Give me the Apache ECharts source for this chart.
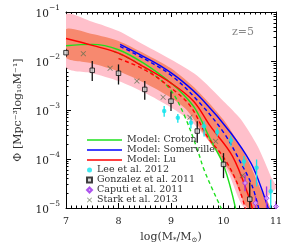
<!DOCTYPE html>
<html><head><meta charset="utf-8">
<script src="https://cdn.jsdelivr.net/npm/echarts@6/dist/echarts.min.js"></script>
<style>html,body{margin:0;padding:0;background:#fff}#c{width:291px;height:249px}</style>
</head><body><div id="c"></div>
<script>
// x: log10(M*/Msun); y values are log10(Phi)
const crotonX = [7.0, 7.5, 8.0, 8.5, 9.0, 9.25, 9.47, 9.75, 10.01, 10.25];
const crotonY = [-1.69, -1.66, -1.77, -2.06, -2.45, -2.70, -2.99, -3.60, -4.15, -5.1];
const crotonDashX = [7.9, 8.3, 8.7, 9.0, 9.25, 9.5, 9.63, 9.82, 10.0];
const crotonDashY = [-1.80, -2.0, -2.3, -2.6, -3.1, -3.8, -4.22, -4.69, -5.1];
const somervilleX = [8.03, 8.41, 8.8, 9.2, 9.6, 10.14, 10.52, 10.71, 10.88];
const somervilleY = [-1.66, -1.87, -2.10, -2.40, -2.79, -3.47, -4.08, -4.56, -5.1];
const somervilleDashX = [8.03, 8.5, 9.0, 9.5, 10.01, 10.33, 10.55, 10.69];
const somervilleDashY = [-1.70, -1.96, -2.29, -2.80, -3.47, -4.08, -4.56, -5.1];
const luX = [7.0, 7.5, 8.0, 8.5, 9.0, 9.43, 9.75, 10.17, 10.48, 10.57];
const luY = [-1.54, -1.68, -1.84, -2.13, -2.45, -2.82, -3.33, -3.94, -4.76, -5.1];
const luDashX = [8.0, 8.5, 9.0, 9.37, 9.69, 10.01, 10.26, 10.44];
const luDashY = [-1.95, -2.18, -2.55, -2.92, -3.54, -3.98, -4.49, -5.1];

// Lu model bands
const band68HiX = [7.0, 7.5, 8.0, 8.5, 9.0, 9.5, 10.0, 10.3, 10.5, 10.7, 10.88];
const band68Hi  = [-1.35, -1.45, -1.59, -1.85, -2.15, -2.6, -3.2, -3.7, -4.1, -4.6, -5.1];
const band68LoX = [7.0, 7.5, 8.0, 8.5, 9.0, 9.3, 9.6, 9.9, 10.2, 10.46];
const band68Lo  = [-1.93, -2.05, -2.21, -2.45, -2.75, -3.0, -3.45, -3.9, -4.4, -5.1];
const band95HiX = [7.0, 7.5, 8.0, 8.5, 9.0, 9.5, 10.0, 10.33, 10.65, 10.9, 11.0];
const band95Hi  = [-1.05, -1.2, -1.39, -1.68, -1.97, -2.3, -2.82, -3.19, -3.74, -4.35, -4.6];
const band95LoX = [7.0, 7.5, 8.0, 8.5, 9.0, 9.4, 9.8, 10.1, 10.42];
const band95Lo  = [-2.13, -2.25, -2.41, -2.65, -2.95, -3.25, -3.75, -4.3, -5.1];

// observations
const gonzX  = [7.0, 7.5, 8.0, 8.5, 9.0, 9.5, 10.0, 10.5];
const gonzY  = [-1.83, -2.19, -2.25, -2.58, -2.82, -3.43, -4.11, -4.82];
const gonzHi = [-1.75, -2.0, -2.07, -2.41, -2.62, -3.23, -3.88, -4.48];
const gonzLo = [-1.92, -2.41, -2.48, -2.79, -3.02, -3.67, -4.39, -5.2];
const starkX = [7.33, 7.84, 8.35, 8.85, 9.36, 9.85, 10.36];
const starkY = [-1.85, -2.15, -2.41, -2.74, -3.15, -3.64, -4.34];
const leeX  = [8.87, 9.13, 9.38, 9.63, 9.88, 10.14, 10.39, 10.63, 10.9];
const leeY  = [-3.02, -3.16, -3.26, -3.33, -3.45, -3.62, -4.05, -4.18, -4.66];
const leeHi = [-2.92, -3.08, -3.14, -3.23, -3.36, -3.52, -3.94, -4.01, -4.42];
const leeLo = [-3.14, -3.26, -3.38, -3.54, -3.54, -3.74, -4.16, -4.56, -5.2];
const caputiX  = [10.41, 10.61, 10.82, 11.0];
const caputiY  = [-4.49, -4.90, -4.80, -4.97];
const caputiHi = [-4.32, -4.76, -4.56, -4.86];
const caputiLo = [-4.66, -5.2, -5.2, -5.2];

const xTicks = [7, 8, 9, 10, 11];
const yTickExp = [-5, -4, -3, -2, -1];

const P = v => Math.pow(10, v);
const pairs = (xs, ys) => xs.map((x, i) => [x, P(ys[i])]);
const FONT = 'DejaVu Serif';

function bandSeries(hx, hy, lx, ly, color) {
  return {
    type: 'custom', clip: true, silent: true, z: 1,
    data: [[hx[0], P(hy[0])]],
    renderItem: function (params, api) {
      const pts = [];
      hx.forEach((x, i) => pts.push(api.coord([x, P(hy[i])])));
      for (let i = lx.length - 1; i >= 0; i--) pts.push(api.coord([lx[i], P(ly[i])]));
      const cs = params.coordSys;
      const clipped = echarts.graphic.clipPointsByRect(pts, {x: cs.x, y: cs.y, width: cs.width, height: cs.height});
      return {type: 'polygon', shape: {points: clipped, smooth: 0.25}, style: {fill: color}};
    }
  };
}
function errSeries(xs, hi, lo, color, z) {
  return {
    type: 'custom', clip: true, silent: true, z: z,
    data: xs.map((x, i) => [x, P(hi[i]), P(lo[i])]),
    encode: {x: 0, y: [1, 2]},
    renderItem: function (params, api) {
      const a = api.coord([api.value(0), api.value(1)]);
      const b = api.coord([api.value(0), api.value(2)]);
      return {type: 'line', shape: {x1: a[0], y1: a[1], x2: b[0], y2: b[1]}, style: {stroke: color, lineWidth: 1.3}};
    }
  };
}
function lineSeries(name, xs, ys, color, dashed) {
  return {
    name: name, type: 'line', data: pairs(xs, ys), showSymbol: false, smooth: 0.35, z: 3,
    clip: true, silent: true,
    lineStyle: {color: color, width: 1.4, type: dashed ? [4, 3] : 'solid'},
    itemStyle: {color: color}
  };
}
const XSYM = 'path://M0,1L1,0L5,4L9,0L10,1L6,5L10,9L9,10L5,6L1,10L0,9L4,5Z';

const yAxisBase = {
  type: 'log', logBase: 10, min: 1e-5, max: 1e-1,
  axisLine: {lineStyle: {color: '#000', width: 1}},
  axisTick: {inside: true, length: 5, lineStyle: {color: '#000'}},
  minorTick: {show: true, splitNumber: 9, length: 2.5, lineStyle: {color: '#000'}},
  splitLine: {show: false}
};
const xAxisBase = {
  type: 'value', min: 7, max: 11, interval: 1,
  axisLine: {lineStyle: {color: '#000', width: 1}},
  axisTick: {inside: true, length: 5, lineStyle: {color: '#000'}},
  minorTick: {show: true, splitNumber: 10, length: 2.5, lineStyle: {color: '#000'}},
  splitLine: {show: false}
};

const chart = echarts.init(document.getElementById('c'), null, {renderer: 'canvas'});
chart.setOption({
  animation: false,
  backgroundColor: '#fff',
  grid: {left: 66, right: 15, top: 12, bottom: 41},
  textStyle: {fontFamily: FONT},
  xAxis: [
    Object.assign({}, xAxisBase, {
      position: 'bottom',
      axisLabel: {color: '#222', fontFamily: FONT, fontSize: 9.5, margin: 9,
        formatter: v => xTicks.includes(v) ? String(v) : ''},
      name: '{n|log(M}{s|*}{n|/M}{s|⊙}{n|)}', nameLocation: 'middle', nameGap: 22,
      nameTextStyle: {rich: {n: {fontFamily: FONT, fontSize: 11, color: '#333'}, s: {fontFamily: FONT, fontSize: 7, color: '#333', verticalAlign: 'bottom', padding: [5, 0, 0, 0]}}}
    }),
    Object.assign({}, xAxisBase, {position: 'top', axisLabel: {show: false}})
  ],
  yAxis: [
    Object.assign({}, yAxisBase, {
      position: 'left',
      axisLabel: {margin: 6, formatter: v => {
          const e = Math.round(Math.log10(v));
          return yTickExp.includes(e) ? '{b|10}{s|−' + Math.abs(e) + '}' : '';
        },
        rich: {b: {fontFamily: FONT, fontSize: 10.5, color: '#222', lineHeight: 16, verticalAlign: 'bottom'},
               s: {fontFamily: FONT, fontSize: 7.5, color: '#222', lineHeight: 16, verticalAlign: 'top'}}},
      name: 'Φ [Mpc⁻³log₁₀M⁻¹]', nameLocation: 'middle', nameGap: 42, nameRotate: 90,
      nameTextStyle: {fontFamily: FONT, fontSize: 11, color: '#333'}
    }),
    Object.assign({}, yAxisBase, {position: 'right', axisLabel: {show: false}})
  ],
  legend: [
    {data: ['Model: Croton', 'Model: Somerville', 'Model: Lu'], orient: 'vertical', left: 82, top: 130,
     icon: 'rect', itemWidth: 35, itemHeight: 1.6, itemGap: 0,
     textStyle: {fontFamily: FONT, fontSize: 9.5, lineHeight: 9, color: '#333'}},
    {data: ['Lee et al. 2012', 'Gonzalez et al. 2011', 'Caputi et al. 2011', 'Stark et al. 2013'],
     orient: 'vertical', left: 81, top: 160, itemWidth: 5, itemHeight: 5, itemGap: 0,
     textStyle: {fontFamily: FONT, fontSize: 9.5, lineHeight: 8.7, color: '#333'}}
  ],
  graphic: [{type: 'text', right: 37, top: 27, style: {text: 'z=5', fontFamily: FONT, fontSize: 11, fill: '#888'}}],
  series: [
    bandSeries(band95HiX, band95Hi, band95LoX, band95Lo, '#ffc0cb'),
    bandSeries(band68HiX, band68Hi, band68LoX, band68Lo, '#f7896f'),
    lineSeries('Model: Croton', crotonX, crotonY, '#1ee01e', false),
    lineSeries('Croton dashed', crotonDashX, crotonDashY, '#1ee01e', true),
    lineSeries('Model: Somerville', somervilleX, somervilleY, '#0000ff', false),
    lineSeries('Somerville dashed', somervilleDashX, somervilleDashY, '#0000ff', true),
    lineSeries('Model: Lu', luX, luY, '#ff0000', false),
    lineSeries('Lu dashed', luDashX, luDashY, '#ff0000', true),
    errSeries(leeX, leeHi, leeLo, '#12e4ec', 5),
    errSeries(gonzX, gonzHi, gonzLo, '#111', 5),
    errSeries(caputiX, caputiHi, caputiLo, '#9b30e8', 5),
    {name: 'Lee et al. 2012', type: 'scatter', data: pairs(leeX, leeY), symbol: 'circle', symbolSize: 4.5, z: 6,
     itemStyle: {color: '#12e4ec'}, clip: true},
    {name: 'Gonzalez et al. 2011', type: 'scatter', data: pairs(gonzX, gonzY), symbol: 'rect', symbolSize: 4.5, z: 6,
     itemStyle: {color: '#cfcfcf', borderColor: '#111', borderWidth: 1}, clip: true},
    {name: 'Caputi et al. 2011', type: 'scatter', data: pairs(caputiX, caputiY), symbol: 'diamond', symbolSize: 5, z: 6,
     itemStyle: {color: '#d9a8ff', borderColor: '#9b30e8', borderWidth: 1}, clip: true},
    {name: 'Stark et al. 2013', type: 'scatter', data: pairs(starkX, starkY), symbol: XSYM, symbolSize: 5.5, z: 6,
     itemStyle: {color: '#5f6f50'}, clip: true}
  ]
});
</script></body></html>
